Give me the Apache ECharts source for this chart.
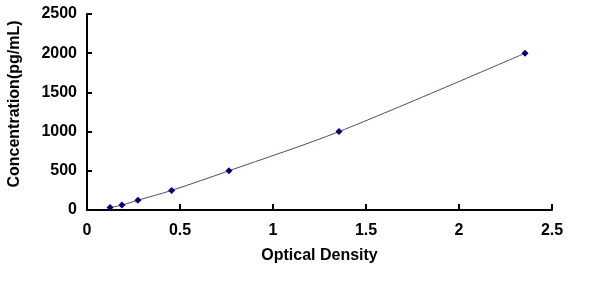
<!DOCTYPE html>
<html><head><meta charset="utf-8">
<script src="https://cdn.jsdelivr.net/npm/echarts@6/dist/echarts.min.js"></script>
<style>html,body{margin:0;padding:0;background:#fff}#c{width:600px;height:298px}</style>
</head><body><div id="c"></div>
<script>
const odValues = [0.124, 0.188, 0.274, 0.455, 0.763, 1.355, 2.355];
const concentrations = [31.25, 62.5, 125, 250, 500, 1000, 2000];
const xTicks = [0, 0.5, 1, 1.5, 2, 2.5];
const yTicks = [0, 500, 1000, 1500, 2000, 2500];

const chart = echarts.init(document.getElementById('c'));
const font = 'Liberation Sans, Arial, sans-serif';
chart.setOption({
  animation: false,
  grid: {left: 87, right: 48, top: 14, bottom: 88, containLabel: false, outerBoundsMode: 'none'},
  xAxis: {
    type: 'value', min: 0, max: 2.5, interval: 0.5,
    name: 'Optical Density', nameLocation: 'middle', nameGap: 38,
    nameTextStyle: {fontFamily: font, fontWeight: 'bold', fontSize: 16, color: '#000'},
    axisLine: {show: true, lineStyle: {color: '#000', width: 2}},
    axisTick: {show: true, inside: true, length: 6, lineStyle: {color: '#000', width: 2}},
    axisLabel: {fontFamily: font, fontWeight: 'bold', fontSize: 16, color: '#000', margin: 13,
      formatter: v => String(v)},
    splitLine: {show: false}
  },
  yAxis: {
    type: 'value', min: 0, max: 2500, interval: 500,
    name: 'Concentration(pg/mL)', nameLocation: 'middle', nameGap: 64,
    nameTextStyle: {fontFamily: font, fontWeight: 'bold', fontSize: 16, color: '#000', padding: [0, 0, 0, 16]},
    axisLine: {show: true, lineStyle: {color: '#000', width: 2}},
    axisTick: {show: true, inside: true, length: 5, lineStyle: {color: '#000', width: 2}},
    axisLabel: {fontFamily: font, fontWeight: 'bold', fontSize: 16, color: '#000', margin: 10,
      formatter: v => String(v)},
    splitLine: {show: false}
  },
  series: [{
    type: 'line', smooth: 0.3,
    data: odValues.map((x, i) => [x, concentrations[i]]),
    symbol: 'diamond', symbolSize: 7,
    itemStyle: {color: '#00006e'},
    lineStyle: {color: '#4a4a7a', width: 1}
  }]
});
</script></body></html>
